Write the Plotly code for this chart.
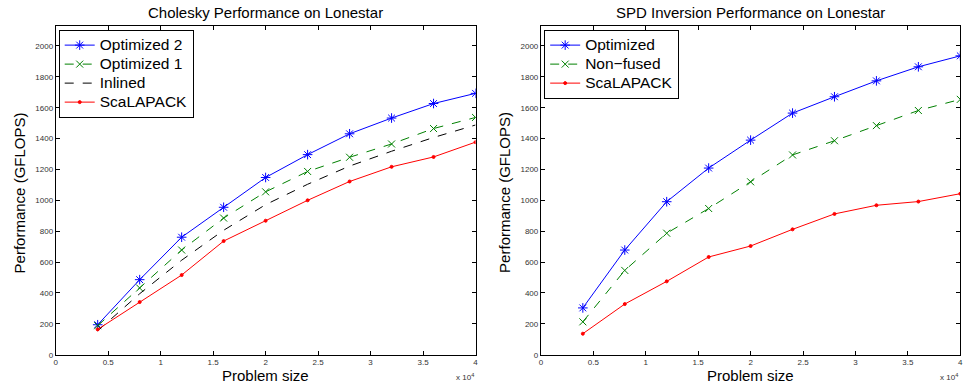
import plotly.graph_objects as go

W, H = 964, 390

problem_size = [4000, 8000, 12000, 16000, 20000, 24000, 28000, 32000, 36000, 40000]

chol_opt2 = [194, 486, 761, 955, 1148, 1296, 1431, 1533, 1627, 1693]
chol_opt1 = [188, 432, 678, 885, 1055, 1187, 1279, 1365, 1465, 1537]
chol_inlined = [155, 395, 612, 806, 972, 1104, 1222, 1318, 1407, 1488]
chol_scalapack = [164, 341, 516, 736, 868, 1000, 1122, 1217, 1281, 1377]

spd_opt = [303, 678, 991, 1209, 1390, 1565, 1671, 1774, 1865, 1936]
spd_nonfused = [213, 546, 787, 947, 1120, 1294, 1386, 1484, 1582, 1654]
spd_scalapack = [136, 328, 475, 633, 704, 812, 912, 968, 992, 1043]

x_ticks = [0, 5000, 10000, 15000, 20000, 25000, 30000, 35000, 40000]
x_ticklabels = ["0", "0.5", "1", "1.5", "2", "2.5", "3", "3.5", "4"]
y_ticks = [0, 200, 400, 600, 800, 1000, 1200, 1400, 1600, 1800, 2000]

BLUE = "#0000ff"
GREEN = "#008000"
BLACK = "#000000"
RED = "#ff0000"
FONT = "Liberation Sans, Arial, sans-serif"

def px_x(p):
    return p / W

def px_y(p):
    return 1 - p / H

fig = go.Figure()

def add(x, y, name, color, dash, symbol, size, xa, ya, legend):
    fig.add_trace(go.Scatter(
        x=x, y=y, name="<span style='font-size:15.5px'>%s</span>" % name,
        mode="lines+markers" if symbol else "lines",
        line=dict(color=color, width=1, dash=dash),
        marker=dict(symbol=symbol or "circle", size=size, color=color,
                    line=dict(color=color, width=1)),
        xaxis=xa, yaxis=ya, legend=legend,
    ))

add(problem_size, chol_opt2, "Optimized 2", BLUE, "solid", "asterisk-open", 8, "x", "y", "legend")
add(problem_size, chol_opt1, "Optimized 1", GREEN, "dash", "x-thin-open", 7, "x", "y", "legend")
add(problem_size, chol_inlined, "Inlined", BLACK, "dash", None, 1, "x", "y", "legend")
add(problem_size, chol_scalapack, "ScaLAPACK", RED, "solid", "circle", 3, "x", "y", "legend")

add(problem_size, spd_opt, "Optimized", BLUE, "solid", "asterisk-open", 8, "x2", "y2", "legend2")
add(problem_size, spd_nonfused, "Non\u2212fused", GREEN, "dash", "x-thin-open", 7, "x2", "y2", "legend2")
add(problem_size, spd_scalapack, "ScaLAPACK", RED, "solid", "circle", 3, "x2", "y2", "legend2")

ydom = [px_y(359.3), px_y(26.7)]
axis_common = dict(
    showgrid=False, zeroline=False, showline=True, linecolor="black", linewidth=1,
    mirror="allticks", ticks="inside", ticklen=4, tickcolor="black",
    tickfont=dict(family=FONT, size=8, color="#333333"),
)
xcommon = dict(axis_common, range=[0, 40000], tickvals=x_ticks, ticktext=x_ticklabels)
ycommon = dict(axis_common, range=[0, 2127], tickvals=y_ticks)

legend_common = dict(
    bgcolor="white", bordercolor="black", borderwidth=1,
    font=dict(family=FONT, size=12, color="black"),
    xanchor="left", yanchor="top", tracegroupgap=0, itemwidth=30,
)

fig.update_layout(
    width=W, height=H, margin=dict(l=0, r=0, t=0, b=0),
    plot_bgcolor="white", paper_bgcolor="white",
    xaxis=dict(xcommon, domain=[px_x(54), px_x(476)], anchor="y"),
    yaxis=dict(ycommon, domain=ydom, anchor="x"),
    xaxis2=dict(xcommon, domain=[px_x(541.7), px_x(963.3)], anchor="y2"),
    yaxis2=dict(ycommon, domain=ydom, anchor="x2"),
    legend=dict(legend_common, x=px_x(57), y=px_y(30)),
    legend2=dict(legend_common, x=px_x(545), y=px_y(30)),
    showlegend=True,
)

annots = [
    dict(text="Cholesky Performance on Lonestar", x=px_x(265), y=px_y(13), size=15),
    dict(text="SPD Inversion Performance on Lonestar", x=px_x(752), y=px_y(13), size=15),
    dict(text="Problem size", x=px_x(265), y=px_y(380), size=15),
    dict(text="Problem size", x=px_x(752), y=px_y(380), size=15),
]
for a in annots:
    fig.add_annotation(text=a["text"], x=a["x"], y=a["y"], xref="paper", yref="paper",
                       showarrow=False, xanchor="center", yanchor="middle",
                       font=dict(family=FONT, size=a["size"], color="black"))
for xc in (18, 505):
    fig.add_annotation(text="Performance (GFLOPS)", x=px_x(xc), y=px_y(195), xref="paper", yref="paper",
                       showarrow=False, textangle=-90, xanchor="center", yanchor="middle",
                       font=dict(family=FONT, size=15, color="black"))
for xc in (465, 952):
    fig.add_annotation(text="x 10<sup>4</sup>", x=px_x(xc), y=px_y(382), xref="paper", yref="paper",
                       showarrow=False, xanchor="center", yanchor="middle",
                       font=dict(family=FONT, size=8, color="#333333"))

fig.write_html(
    "out.html",
    config={"displayModeBar": False},
    post_script="document.body.style.margin='0';document.body.style.overflow='hidden';",
)
